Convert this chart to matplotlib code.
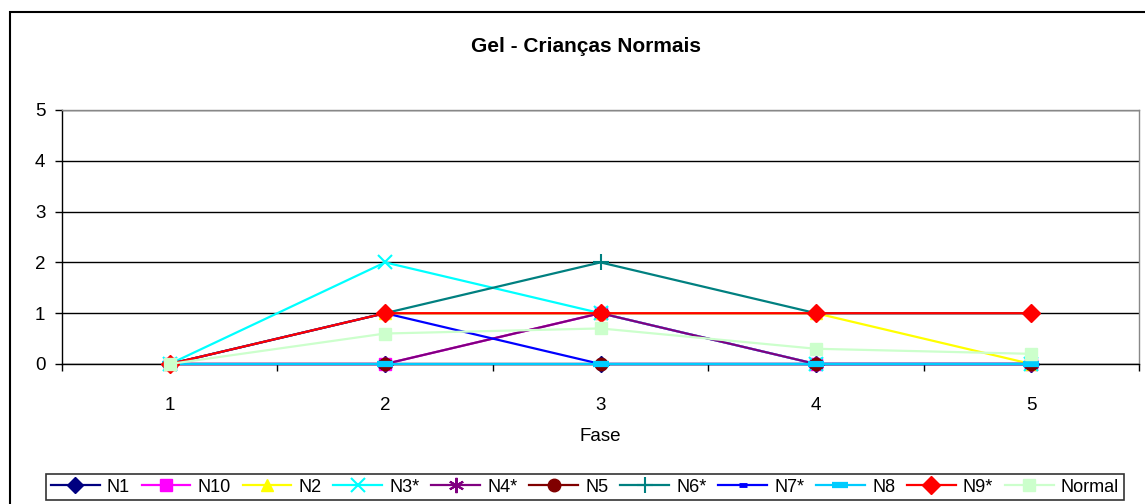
import matplotlib
matplotlib.use("Agg")
import matplotlib.pyplot as plt
from matplotlib.patches import Rectangle
import numpy as np

plt.rcParams['font.family'] = ['Liberation Sans', 'DejaVu Sans']

# Gel - Criancas Normais, score per phase
fases = [1, 2, 3, 4, 5]
n1 = [0, 0, 0, 0, 0]
n10 = [0, 0, 1, 0, 0]
n2 = [0, 1, 1, 1, 0]
n3 = [0, 2, 1, 0, 0]
n4 = [0, 0, 1, 0, 0]
n5 = [0, 0, 0, 0, 0]
n6 = [0, 1, 2, 1, 1]
n7 = [0, 1, 0, 0, 0]
n8 = [0, 0, 0, 0, 0]
n9 = [0, 1, 1, 1, 1]
normal = [0, 0.6, 0.7, 0.3, 0.2]

series = [
    ("N1", n1, "#000080", "D", 8, 1.0),
    ("N10", n10, "#FF00FF", "s", 8, 1.0),
    ("N2", n2, "#FFFF00", "^", 9, 1.0),
    ("N3*", n3, "#00FFFF", "x", 10, 1.5),
    ("N4*", n4, "#800080", (6, 2, 0), 11, 1.5),
    ("N5", n5, "#800000", "o", 9, 1.0),
    ("N6*", n6, "#008080", "+", 11, 1.5),
    ("N7*", n7, "#0000FF", "_", 6, 3.5),
    ("N8", n8, "#00CCFF", "_", 11, 4.5),
    ("N9*", n9, "#FF0000", "D", 9, 1.0),
    ("Normal", normal, "#CCFFCC", "s", 9, 1.0),
]

fig = plt.figure(figsize=(11.45, 5.04), dpi=100)
ax = fig.add_axes([62 / 1145, 1 - 364 / 504, (1139 - 62) / 1145, (364 - 110) / 504])

for i, (name, vals, col, mk, ms, mew) in enumerate(series):
    ax.plot(fases, vals, color=col, lw=1.6, marker=mk, markersize=ms,
            markerfacecolor=col, markeredgecolor=col, markeredgewidth=mew,
            label=name, zorder=3 + i, clip_on=False)

ax.set_xlim(0.5, 5.5)
ax.set_ylim(0, 5)
ax.set_yticks([0, 1, 2, 3, 4, 5])
ax.set_xticks(fases)
ax.set_xticks(np.arange(0.5, 6, 1), minor=True)
ax.tick_params(axis='x', which='major', length=0, pad=24, labelsize=13.5)
ax.tick_params(axis='x', which='minor', length=5, width=1, direction='out')
ax.tick_params(axis='y', length=5, width=1, direction='out', pad=7, labelsize=13.5)
ax.yaxis.grid(True, color='black', lw=1)
ax.set_axisbelow(True)
ax.spines['left'].set_color('black')
ax.spines['bottom'].set_color('black')
ax.spines['top'].set_color('#888888')
ax.spines['right'].set_color('#888888')
for s in ax.spines.values():
    s.set_linewidth(1)

ax.set_xlabel("Fase", fontsize=13.5, labelpad=10)
fig.text(586 / 1145, 1 - 46 / 504, "Gel - Crianças Normais", ha='center', va='center',
         fontsize=15, fontweight='bold')

leg = fig.legend(loc='center', bbox_to_anchor=(585 / 1145, 1 - 487 / 504), ncol=11,
                 frameon=True, fancybox=False, edgecolor='black', fontsize=13,
                 handlelength=2.7, handletextpad=0.4, columnspacing=0.65,
                 borderpad=0.25, borderaxespad=0)
leg.get_frame().set_linewidth(1.2)

fig.patches.append(Rectangle((10 / 1145, -0.1), 2, 1.1 - 12 / 504, transform=fig.transFigure,
                             fill=False, edgecolor='black', lw=1.5))

fig.savefig("out.png", dpi=100)
